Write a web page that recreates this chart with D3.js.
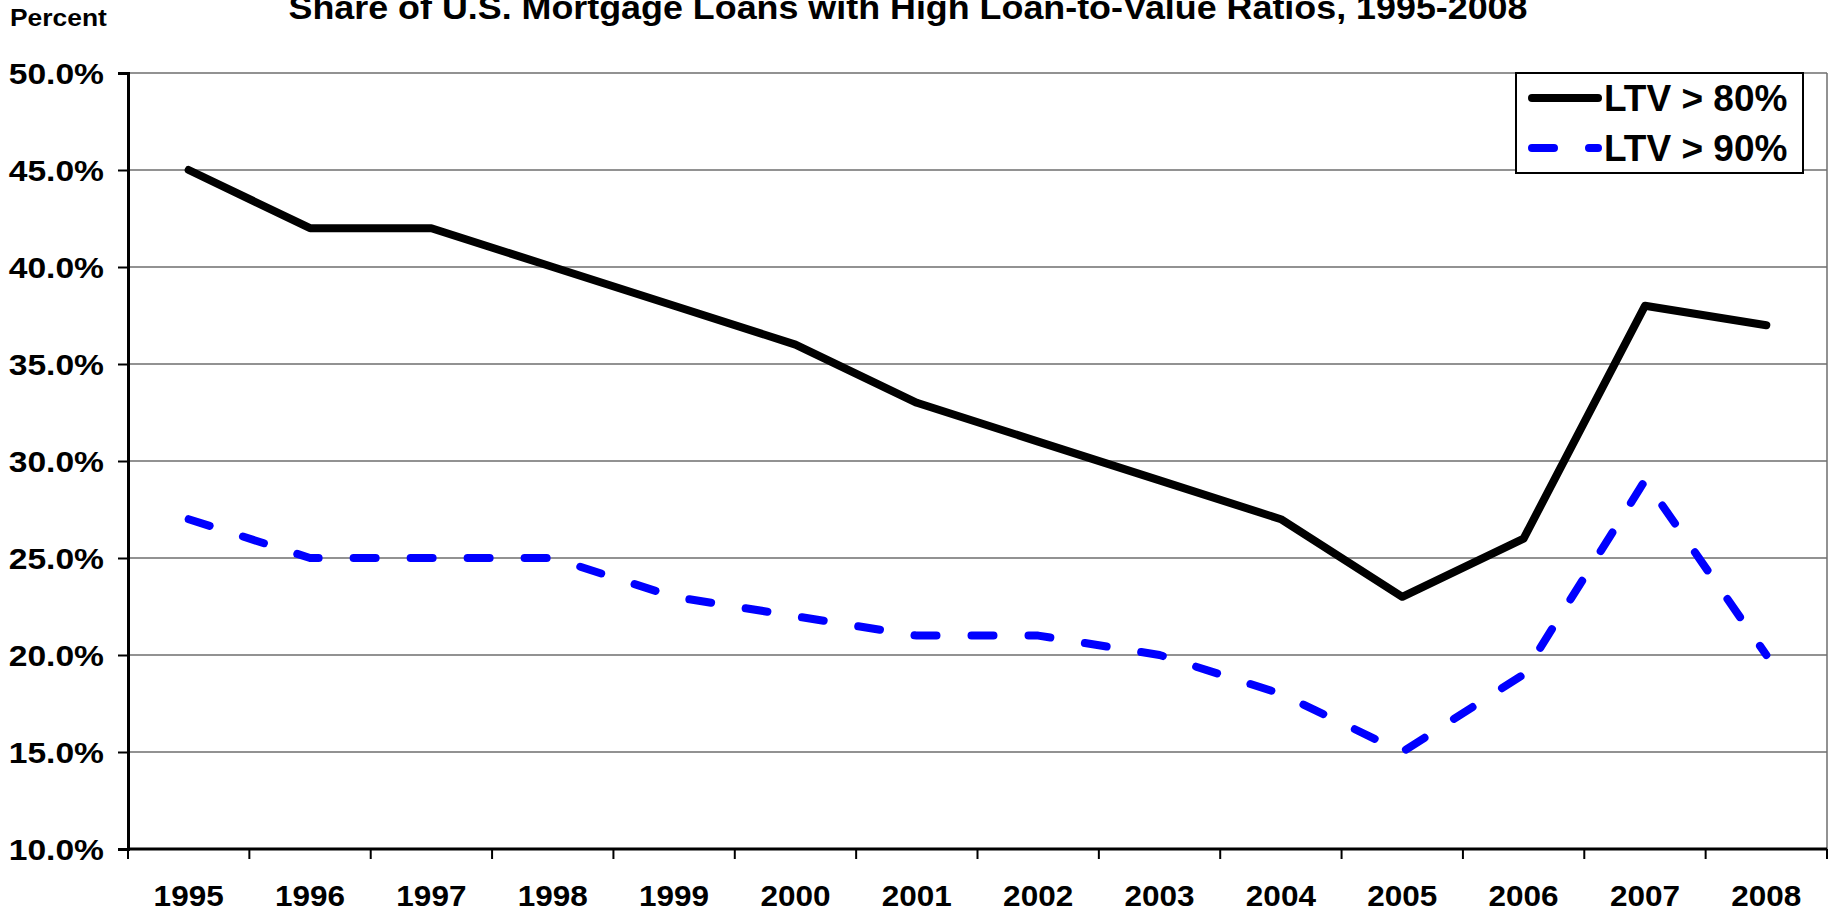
<!DOCTYPE html>
<html>
<head>
<meta charset="utf-8">
<script src="https://cdn.jsdelivr.net/npm/d3@7"></script>
<style>
  html, body { margin: 0; padding: 0; background: #fff; }
  svg { display: block; font-family: "Liberation Sans", Arial, sans-serif; font-weight: bold; }
</style>
</head>
<body>
<svg id="chart" width="1835" height="911"></svg>
<script>
/*    ========    DATA    =========    */

var years = ["1995", "1996", "1997", "1998", "1999", "2000", "2001",
             "2002", "2003", "2004", "2005", "2006", "2007", "2008"];
var ltv80 = [45, 42, 42, 40, 38, 36, 33, 31, 29, 27, 23, 26, 38, 37];
var ltv90 = [27, 25, 25, 25, 23, 22, 21, 21, 20, 18, 15, 19, 29, 20];
var yTicks = [10, 15, 20, 25, 30, 35, 40, 45, 50];
var seriesNames = ["LTV > 80%", "LTV > 90%"];

/*    ========    SETTINGS    =========    */

var svg = d3.select('#chart');

// plot area edges (note: `top` is taken by window.top)
var plotL = 128, plotR = 1827, plotT = 73, plotB = 849;

// stretch text horizontally by factor k (the source chart is a little wide)
function stretch(sel, k) {
    sel.each(function() {
        var len = this.getComputedTextLength();
        d3.select(this)
            .attr("textLength", len * k)
            .attr("lengthAdjust", "spacingAndGlyphs");
    });
}

/*    ========    SCALES    =========    */

var xscale = d3.scaleBand().domain(years).range([plotL, plotR]);
var yscale = d3.scaleLinear().domain([10, 50]).range([plotB, plotT]);

/*    ========    TITLE    =========    */

// title sits partly above the top edge, as in the source
svg.append("text")
    .attr("x", 908)
    .attr("y", 19)
    .attr("text-anchor", "middle")
    .style("font-size", "33px")
    .text("Share of U.S. Mortgage Loans with High Loan-to-Value Ratios, 1995-2008")
    .attr("textLength", 1239)
    .attr("lengthAdjust", "spacingAndGlyphs");

svg.append("text")
    .attr("x", 10)
    .attr("y", 26)
    .style("font-size", "24px")
    .text("Percent")
    .call(stretch, 1.1);

/*    ========    GRID    =========    */

svg.append("g")
    .selectAll("line")
    .data(yTicks.slice(1))
    .join("line")
    .attr("x1", plotL)
    .attr("x2", plotR)
    .attr("y1", function(d) { return yscale(d); })
    .attr("y2", function(d) { return yscale(d); })
    .attr("stroke", "#6e6e6e")
    .attr("stroke-width", 1.5);

// right border of plot area
svg.append("line")
    .attr("x1", plotR).attr("x2", plotR)
    .attr("y1", plotT).attr("y2", plotB)
    .attr("stroke", "#6e6e6e")
    .attr("stroke-width", 1.5);

/*    ========    AXES    =========    */

var yAxis = d3.axisLeft(yscale)
    .tickValues(yTicks)
    .tickSize(10)
    .tickPadding(14)
    .tickFormat(function(d) { return d.toFixed(1) + "%"; });

var gy = svg.append("g")
    .attr("transform", "translate(" + plotL + ",0)")
    .call(yAxis);
gy.select(".domain").attr("stroke", "#000").attr("stroke-width", 3);
gy.selectAll(".tick line").attr("stroke", "#000").attr("stroke-width", 2);
gy.selectAll(".tick text")
    .attr("fill", "#000")
    .attr("dy", "0.36em")
    .style("font-size", "30px")
    .style("font-family", "Liberation Sans, Arial, sans-serif")
    .style("font-weight", "bold")
    .call(stretch, 1.12);

// x axis: ticks on band edges, labels centred in bands
var gx = svg.append("g").attr("transform", "translate(0," + plotB + ")");
gx.append("line")
    .attr("x1", plotL).attr("x2", plotR)
    .attr("stroke", "#000").attr("stroke-width", 3);

var edges = years.map(function(d) { return xscale(d); }).concat([plotR]);
gx.selectAll("line.tick")
    .data(edges)
    .join("line")
    .attr("class", "tick")
    .attr("x1", function(d) { return d; })
    .attr("x2", function(d) { return d; })
    .attr("y1", 0).attr("y2", 10)
    .attr("stroke", "#000").attr("stroke-width", 2);

gx.selectAll("text")
    .data(years)
    .join("text")
    .attr("x", function(d) { return xscale(d) + xscale.bandwidth() / 2; })
    .attr("y", 57)
    .attr("text-anchor", "middle")
    .style("font-size", "30px")
    .text(function(d) { return d; })
    .call(stretch, 1.05);

/*    ========    LINES    =========    */

var line = d3.line()
    .x(function(d, i) { return xscale(years[i]) + xscale.bandwidth() / 2; })
    .y(function(d) { return yscale(d); });

svg.append("path")
    .datum(ltv80)
    .attr("d", line)
    .attr("fill", "none")
    .attr("stroke", "#000")
    .attr("stroke-width", 8)
    .attr("stroke-linejoin", "round")
    .attr("stroke-linecap", "round");

svg.append("path")
    .datum(ltv90)
    .attr("d", line)
    .attr("fill", "none")
    .attr("stroke", "#0000ff")
    .attr("stroke-width", 8)
    .attr("stroke-dasharray", "22,35")
    .attr("stroke-linejoin", "round")
    .attr("stroke-linecap", "round");

/*    ========    LEGEND    =========    */

var legend = svg.append("g");
legend.append("rect")
    .attr("x", 1516).attr("y", 73)
    .attr("width", 287).attr("height", 100)
    .attr("fill", "#fff")
    .attr("stroke", "#000")
    .attr("stroke-width", 2);

var legendRows = legend.selectAll("g.row")
    .data(seriesNames)
    .join("g")
    .attr("class", "row")
    .attr("transform", function(d, i) { return "translate(0," + (98 + i * 50) + ")"; });

legendRows.append("line")
    .attr("x1", 1532).attr("x2", 1598)
    .attr("stroke", function(d, i) { return i === 0 ? "#000" : "#0000ff"; })
    .attr("stroke-width", 8)
    .attr("stroke-linecap", "round")
    .attr("stroke-dasharray", function(d, i) { return i === 0 ? null : "22,35"; });

legendRows.append("text")
    .attr("x", 1604)
    .attr("y", 13)
    .style("font-size", "37px")
    .text(function(d) { return d; });
</script>
</body>
</html>
